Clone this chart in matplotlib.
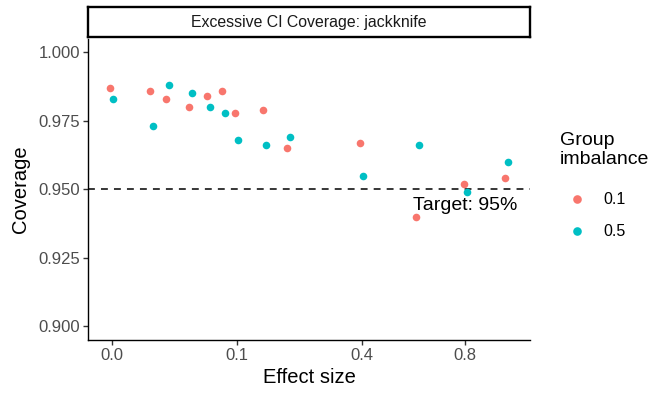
import numpy as np
import matplotlib
matplotlib.use("Agg")
import matplotlib.pyplot as plt
from matplotlib.lines import Line2D
from matplotlib.transforms import offset_copy

plt.rcParams['font.family'] = ['Liberation Sans', 'DejaVu Sans']

# data
effect_size = [0, 0.01, 0.02, 0.04, 0.06, 0.08, 0.1, 0.15, 0.2, 0.4, 0.6, 0.8, 1.0]
cov_01 = [0.987, 0.986, 0.983, 0.980, 0.984, 0.986, 0.978, 0.979, 0.965, 0.967, 0.940, 0.952, 0.954]
cov_05 = [0.983, 0.973, 0.988, 0.985, 0.980, 0.978, 0.968, 0.966, 0.969, 0.955, 0.966, 0.949, 0.960]
groups = ["0.1", "0.5"]
colors = ["#F8766D", "#00BFC4"]
x_ticks = [0.0, 0.1, 0.4, 0.8]
y_ticks = [0.900, 0.925, 0.950, 0.975, 1.000]
target = 0.95

W, H = 656, 394
fig = plt.figure(figsize=(W / 100, H / 100), dpi=100)

left, right, bottom, top = 88.3, 530.0, 340.0, 38.5
ax = fig.add_axes([left / W, 1 - bottom / H, (right - left) / W, (bottom - top) / H])


def fwd(x):
    x = np.asarray(x, dtype=float)
    return np.sign(x) * np.sqrt(np.abs(x))


def inv(y):
    y = np.asarray(y, dtype=float)
    return np.sign(y) * y ** 2


ax.set_xscale('function', functions=(fwd, inv))
ax.set_xlim(-(0.0592 ** 2), 1.0582 ** 2)
ax.set_ylim(0.895, 1.005)

# small dodge between the two groups
for vals, col, dx in zip([cov_01, cov_05], colors, [-1.5, 1.5]):
    tr = offset_copy(ax.transData, fig=fig, x=dx, y=0, units='dots')
    ax.scatter(effect_size, vals, s=30, color=col, transform=tr, linewidths=0, zorder=3)

ax.axhline(target, color='black', lw=1.1, dashes=(4.5, 4), zorder=2)
ax.text(0.8, 0.9423, "Target: 95%", ha='center', va='baseline', fontsize=14, color='black')

ax.set_xticks(x_ticks)
ax.set_xticklabels(["0.0", "0.1", "0.4", "0.8"])
ax.set_yticks(y_ticks)
ax.set_yticklabels([f"{v:.3f}" for v in y_ticks])
ax.tick_params(axis='both', length=3.6, width=1.0, color='#333333', labelcolor='#4D4D4D',
               labelsize=12, pad=2.5)

for s in ['top', 'right']:
    ax.spines[s].set_visible(False)
for s in ['left', 'bottom']:
    ax.spines[s].set_linewidth(1.0)
    ax.spines[s].set_color('black')

ax.set_xlabel("Effect size", fontsize=14.5, labelpad=3)
ax.set_ylabel("Coverage", fontsize=14.5, labelpad=6)

# facet strip
s_top, s_bot = 7.2, 37.3
sax = fig.add_axes([left / W, 1 - s_bot / H, (right - left) / W, (s_bot - s_top) / H])
sax.set_xticks([])
sax.set_yticks([])
for s in sax.spines.values():
    s.set_linewidth(1.7)
    s.set_color('black')
sax.text(0.5, 0.5, "Excessive CI Coverage: jackknife", ha='center', va='center',
         fontsize=11.4, color='#1A1A1A', transform=sax.transAxes)

# legend, placed by hand
fig.text(560 / W, 1 - 132 / H, "Group\nimbalance", ha='left', va='top', fontsize=14,
         linespacing=1.12)
key_x, lab_x, key_y0, key_dy = 576.7, 603.0, 199.3, 31.7
for i, (g, c) in enumerate(zip(groups, colors)):
    ky = 1 - (key_y0 + i * key_dy) / H
    fig.add_artist(Line2D([key_x / W], [ky], ls='none', marker='o', markersize=6.2,
                          color=c, markeredgewidth=0, transform=fig.transFigure))
    fig.text(lab_x / W, ky, g, ha='left', va='center', fontsize=11.5)

fig.savefig("out.png", dpi=100)
